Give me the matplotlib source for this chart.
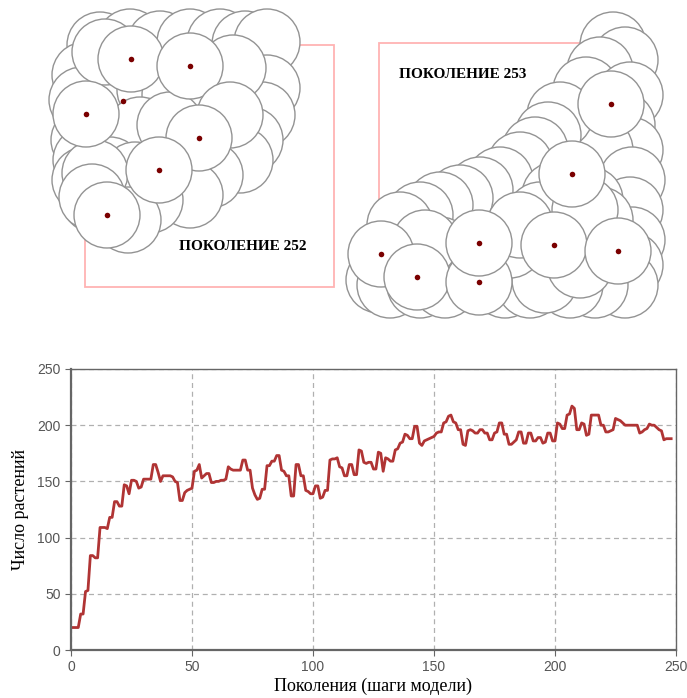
import numpy as np
import matplotlib
matplotlib.use("Agg")
import matplotlib.pyplot as plt
from matplotlib.patches import Circle, Rectangle

# number of plants per generation (gen 0..248)
plants = [
    20, 20, 20, 20, 32, 32, 52, 53, 84, 84, 82, 82, 109, 109, 109, 108, 118, 118,
    132, 132, 128, 128, 147, 146, 139, 151, 151, 150, 144, 145, 152, 152, 152, 152,
    165, 165, 158, 150, 155, 155, 155, 155, 154, 150, 149, 133, 133, 140, 142, 143,
    144, 159, 160, 165, 153, 155, 157, 157, 149, 149, 150, 150, 151, 151, 152, 163,
    161, 160, 160, 160, 160, 169, 169, 160, 160, 144, 138, 134, 135, 143, 143, 164,
    164, 168, 168, 173, 173, 160, 159, 155, 155, 137, 137, 165, 165, 155, 155, 142,
    141, 139, 139, 146, 146, 135, 136, 142, 142, 169, 170, 170, 171, 163, 162, 155,
    155, 165, 165, 156, 156, 178, 177, 167, 166, 167, 167, 161, 161, 176, 175, 159,
    171, 170, 168, 168, 178, 179, 184, 185, 192, 191, 188, 188, 199, 199, 184, 182,
    186, 187, 188, 189, 190, 193, 194, 194, 202, 203, 208, 209, 203, 202, 196, 196,
    183, 182, 195, 196, 195, 193, 193, 196, 196, 193, 193, 187, 187, 193, 194, 202,
    202, 192, 192, 183, 183, 185, 187, 194, 194, 184, 184, 193, 193, 186, 186, 189,
    189, 184, 185, 193, 193, 186, 186, 202, 201, 197, 197, 209, 210, 217, 215, 196,
    196, 202, 201, 191, 192, 209, 209, 209, 209, 200, 200, 194, 194, 195, 196, 206,
    205, 204, 202, 200, 200, 200, 200, 200, 200, 193, 194, 196, 197, 201, 200, 200,
    198, 196, 195, 187, 188, 188, 188,
]
generations = np.arange(len(plants))

x_ticks = [0, 50, 100, 150, 200, 250]
y_ticks = [0, 50, 100, 150, 200, 250]

# plant positions in the two snapshots (picture pixels), radius of a plant crown
radius = 33
gen252_x = [100, 130, 160, 190, 220, 245, 267, 85, 82, 84, 86, 85, 123, 150, 175,
            215, 240, 267, 262, 115, 140, 170, 225, 250, 240, 110, 135, 175, 210,
            190, 150, 128, 95, 105, 131, 233, 190, 95, 86, 230, 199, 159, 92, 107]
gen252_y = [45, 42, 44, 42, 42, 44, 42, 75, 100, 140, 160, 180, 101, 90, 95,
            95, 100, 88, 115, 140, 130, 125, 130, 140, 160, 170, 175, 180, 175,
            195, 200, 220, 200, 52, 59, 68, 66, 173, 114, 115, 138, 170, 197, 215]
gen252_dots = [False] * 12 + [True] + [False] * 21 + [True, False, True, False,
                                                     True, False, True, True, False, True]

gen253_x = [613, 625, 600, 586, 630, 622, 630, 600, 632, 630, 632, 630, 625, 595,
            570, 560, 548, 535, 520, 500, 480, 460, 440, 420, 400, 555, 540, 590,
            600, 379, 390, 420, 445, 505, 530, 545, 440, 510, 520, 590, 580, 425,
            381, 417, 479, 479, 585, 572, 554, 618, 611]
gen253_y = [45, 60, 70, 90, 95, 125, 150, 150, 180, 210, 240, 265, 285, 285,
            285, 115, 135, 150, 165, 180, 190, 198, 205, 215, 225, 195, 215, 200,
            220, 280, 285, 285, 285, 285, 285, 280, 250, 245, 225, 245, 265, 243,
            254, 277, 282, 243, 210, 174, 245, 251, 104]
gen253_dots = [False] * 42 + [True, True, True, True, False, True, True, True, True]

W, H = 687, 698
fig = plt.figure(figsize=(W / 100, H / 100), dpi=100)

# --- snapshots of the field ---
top = fig.add_axes([0, 0, 1, 1])
top.set_xlim(0, W)
top.set_ylim(H, 0)
top.axis("off")

top.add_patch(Rectangle((85, 45), 249, 242, fill=False, ec="#ffb3b3", lw=1.3))
top.add_patch(Rectangle((379, 43), 206, 240, fill=False, ec="#ffb3b3", lw=1.3))

for xs, ys, dots in [(gen252_x, gen252_y, gen252_dots),
                     (gen253_x, gen253_y, gen253_dots)]:
    for cx, cy in zip(xs, ys):
        top.add_patch(Circle((cx, cy), radius, fc="white", ec="#939393", lw=1.0))
    dx = [x for x, d in zip(xs, dots) if d]
    dy = [y for y, d in zip(ys, dots) if d]
    top.scatter(dx, dy, s=16, color="#7a0000", zorder=5, linewidths=0)

top.text(243, 247, "ПОКОЛЕНИЕ 252", ha="center", va="center", fontsize=11,
         fontweight="bold", family="Liberation Serif")
top.text(463, 75, "ПОКОЛЕНИЕ 253", ha="center", va="center", fontsize=11,
         fontweight="bold", family="Liberation Serif")

# --- population chart ---
ax = fig.add_axes([71 / W, 1 - 650 / H, 605 / W, 281 / H])
ax.plot(generations, plants, color="#b03434", lw=2.0)
ax.set_xlim(0, 250)
ax.set_ylim(0, 250)
ax.set_xticks(x_ticks)
ax.set_yticks(y_ticks)
ax.grid(True, color="#b0b0b0", linestyle=(0, (4, 3)), lw=0.9)
for s in ax.spines.values():
    s.set_color("#666666")
    s.set_linewidth(1.0)
ax.spines["left"].set_linewidth(1.6)
ax.spines["bottom"].set_linewidth(1.6)
ax.tick_params(direction="out", length=4, color="#666666", labelcolor="#555555",
               labelsize=10)
for lab in ax.get_xticklabels() + ax.get_yticklabels():
    lab.set_family("Liberation Sans")
ax.set_xlabel("Поколения (шаги модели)", family="Liberation Serif", fontsize=13,
              labelpad=2)
ax.set_ylabel("Число растений", family="Liberation Serif", fontsize=13, labelpad=6)

fig.savefig("out.png", dpi=100)
